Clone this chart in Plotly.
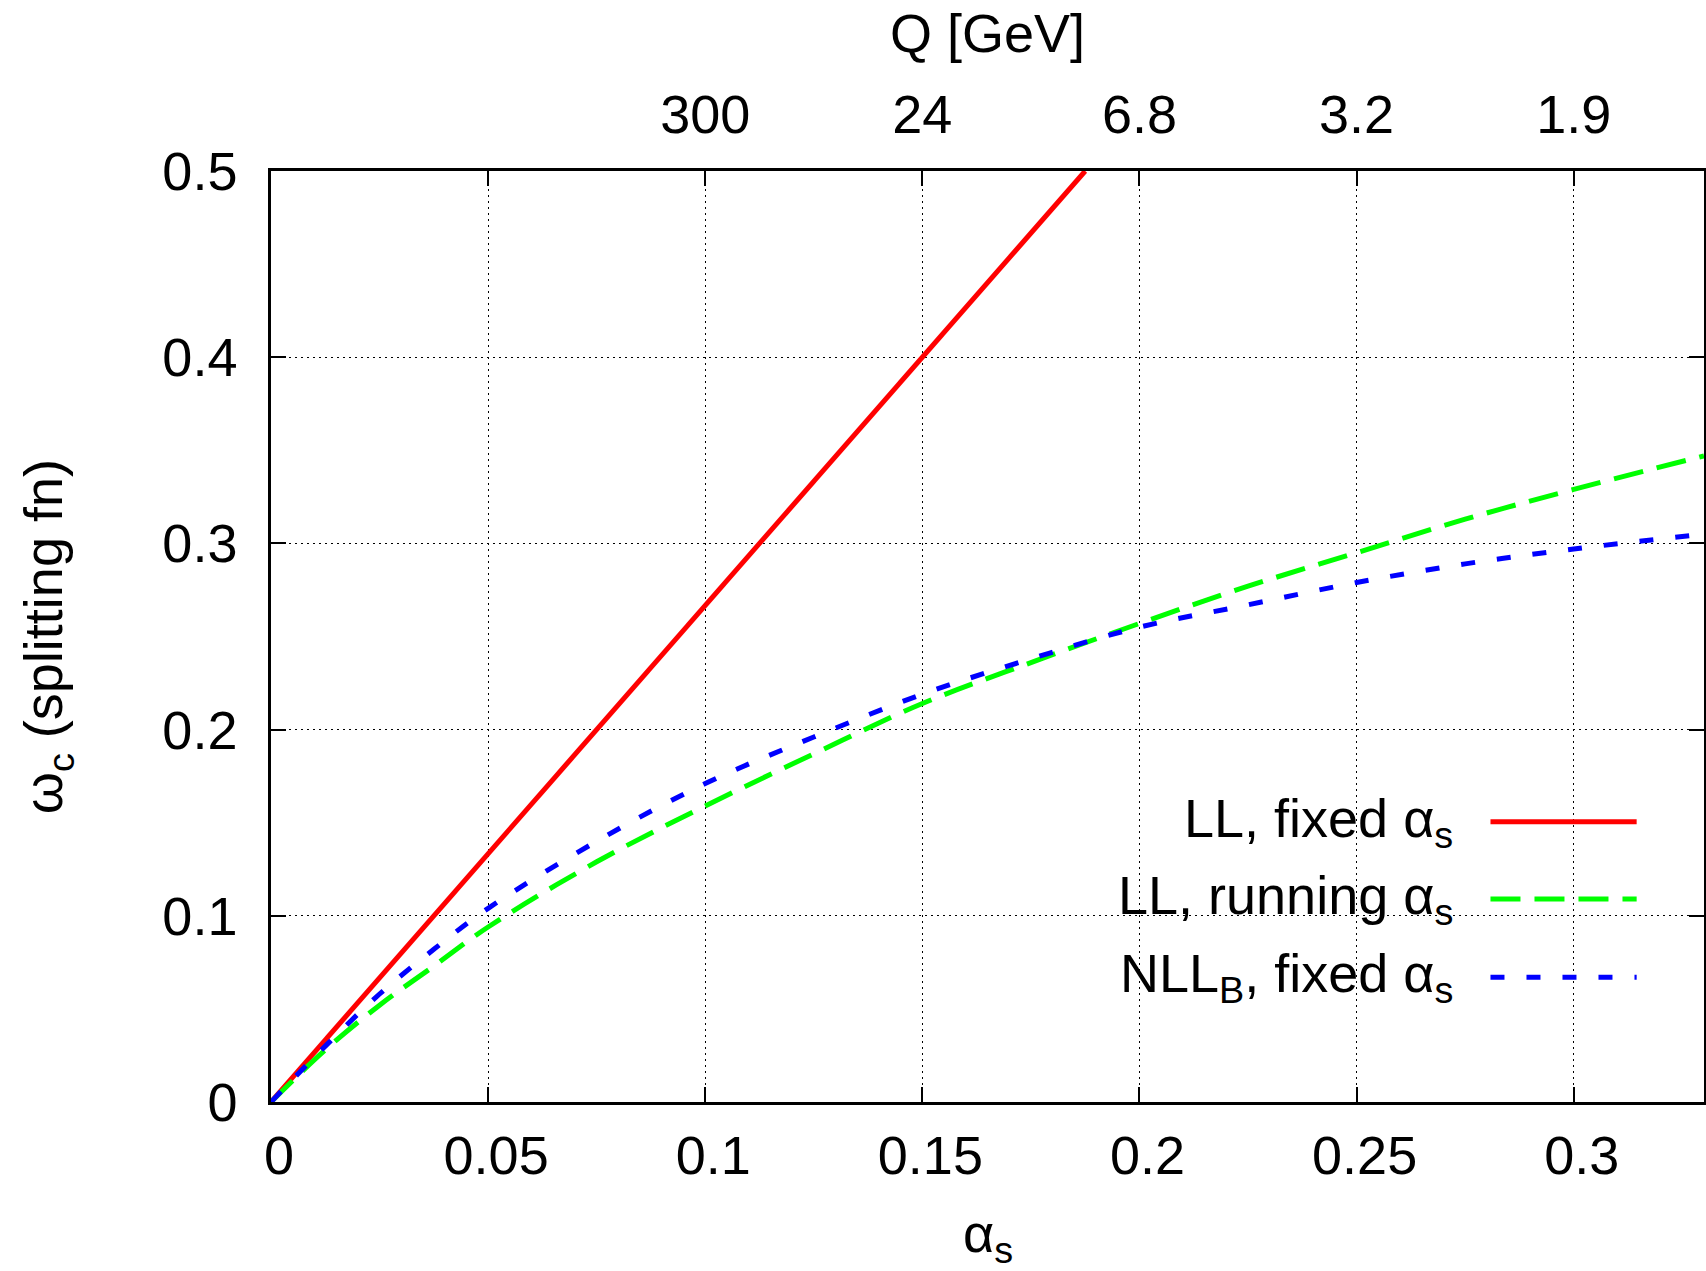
import plotly.graph_objects as go

# alpha_s values
alpha_fixed = [0, 0.05, 0.1, 0.15, 0.1875]
omega_ll_fixed = [0, 0.1333, 0.2667, 0.4, 0.5]

alpha = [0, 0.0125, 0.025, 0.0375, 0.05, 0.075, 0.1, 0.125, 0.15, 0.175,
         0.2, 0.225, 0.25, 0.275, 0.3, 0.33]
omega_ll_running = [0, 0.028, 0.052, 0.073, 0.094, 0.129, 0.159, 0.187, 0.214, 0.236,
                    0.257, 0.277, 0.295, 0.313, 0.329, 0.347]
omega_nllb_fixed = [0, 0.030, 0.058, 0.082, 0.104, 0.140, 0.171, 0.196, 0.219, 0.238,
                    0.255, 0.267, 0.279, 0.289, 0.297, 0.305]

x_ticks = [0, 0.05, 0.1, 0.15, 0.2, 0.25, 0.3]
x_tick_text = ["0", "0.05", "0.1", "0.15", "0.2", "0.25", "0.3"]
y_ticks = [0, 0.1, 0.2, 0.3, 0.4, 0.5]
y_tick_text = ["0", "0.1", "0.2", "0.3", "0.4", "0.5"]
q_ticks = [0.1, 0.15, 0.2, 0.25, 0.3]
q_labels = ["300", "24", "6.8", "3.2", "1.9"]

legend_names = ["LL, fixed α<sub>s</sub>", "LL, running α<sub>s</sub>",
                "NLL<sub>B</sub>, fixed α<sub>s</sub>"]
colors = ["#ff0000", "#00ff00", "#0000ff"]
dashes = ["solid", "30px,14px", "14px,22px"]

FONT = "Liberation Sans, Arial, Helvetica, sans-serif"
FS = 54

fig = go.Figure()
fig.add_trace(go.Scatter(x=alpha_fixed, y=omega_ll_fixed, mode="lines",
                         line=dict(color=colors[0], width=5, dash=dashes[0])))
fig.add_trace(go.Scatter(x=alpha, y=omega_ll_running, mode="lines", line_shape="spline",
                         line=dict(color=colors[1], width=5, dash=dashes[1])))
fig.add_trace(go.Scatter(x=alpha, y=omega_nllb_fixed, mode="lines", line_shape="spline",
                         line=dict(color=colors[2], width=5, dash=dashes[2])))
# invisible trace to activate the top axis
fig.add_trace(go.Scatter(x=[0, 0.33], y=[0, 0], xaxis="x2", mode="lines",
                         line=dict(width=0), hoverinfo="skip"))

axis_common = dict(showline=True, linecolor="black", linewidth=2.5, mirror="ticks",
                   ticks="inside", ticklen=15, tickwidth=2, tickcolor="black",
                   showgrid=True, gridcolor="black", gridwidth=1, griddash="2px,4px",
                   zeroline=False, automargin=False,
                   tickfont=dict(family=FONT, size=FS, color="black"))

fig.update_layout(
    width=1706, height=1271,
    margin=dict(l=271, r=2, t=171, b=169),
    paper_bgcolor="white", plot_bgcolor="white",
    showlegend=False,
    font=dict(family=FONT, size=FS, color="black"),
    xaxis=dict(range=[0, 0.33], tickvals=x_ticks, ticktext=x_tick_text,
               ticklabelstandoff=4, ticklabelshift=8, **axis_common),
    yaxis=dict(range=[0, 0.5], tickvals=y_ticks, ticktext=y_tick_text,
               ticklabelstandoff=20, **axis_common),
    xaxis2=dict(range=[0, 0.33], overlaying="x", side="top", tickvals=q_ticks,
                ticktext=q_labels, ticks="", showline=False, showgrid=False,
                zeroline=False, automargin=False, ticklabelstandoff=26,
                tickfont=dict(family=FONT, size=FS, color="black")),
)

# axis titles
fig.add_annotation(x=0.5, y=-0.145, xref="paper", yref="paper", text="α<sub>s</sub>",
                   showarrow=False, xanchor="center", yanchor="middle")
fig.add_annotation(x=0.5, y=1.148, xref="paper", yref="paper", text="Q [GeV]",
                   showarrow=False, xanchor="center", yanchor="middle")
fig.add_annotation(x=-0.1565, y=0.5, xref="paper", yref="paper",
                   text="ω<sub>c</sub> (splitting fn)", textangle=-90,
                   showarrow=False, xanchor="center", yanchor="middle")

# legend drawn gnuplot-style: text right-aligned, sample line on the right
legend_y = [0.301, 0.218, 0.134]
for name, col, dash, yy in zip(legend_names, colors, dashes, legend_y):
    fig.add_annotation(x=0.826, y=yy, xref="paper", yref="paper", text=name,
                       showarrow=False, xanchor="right", yanchor="middle",
                       font=dict(family=FONT, size=FS, color="black"))
    fig.add_shape(type="line", xref="paper", yref="paper", x0=0.851, x1=0.953,
                  y0=yy, y1=yy, line=dict(color=col, width=5, dash=dash))

# drop the page's default body margin so the figure sits at the window origin
fig.write_html("out.html", config={"displayModeBar": False},
               post_script="document.body.style.margin='0';document.body.style.overflow='hidden';")
